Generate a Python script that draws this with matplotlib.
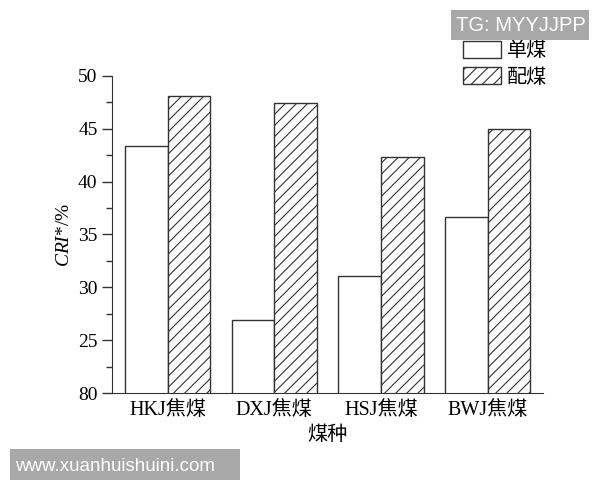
import numpy as np
import matplotlib.pyplot as plt
from matplotlib.patches import Rectangle
from matplotlib.ticker import MultipleLocator

plt.rcParams['font.family'] = ['Liberation Serif', 'Noto Sans CJK SC']
plt.rcParams['mathtext.fontset'] = 'custom'
plt.rcParams['mathtext.it'] = 'Liberation Serif:italic'
plt.rcParams['mathtext.rm'] = 'Liberation Serif'
plt.rcParams['hatch.linewidth'] = 0.8

# data
categories = ['HKJ焦煤', 'DXJ焦煤', 'HSJ焦煤', 'BWJ焦煤']
single_coal = [43.4, 26.9, 31.1, 36.7]   # 单煤
blend_coal = [48.1, 47.4, 42.3, 45.0]    # 配煤
ytick_vals = [20, 25, 30, 35, 40, 45, 50]
ytick_labels = ['80', '25', '30', '35', '40', '45', '50']

fig = plt.figure(figsize=(6, 4.8), dpi=100)
ax = fig.add_axes([0.187, 0.181, 0.718, 0.661])

x = np.arange(len(categories))
w = 0.40
ax.bar(x - w / 2, single_coal, w, color='white', edgecolor='#333333',
       linewidth=1.0, label='单煤')
ax.bar(x + w / 2, blend_coal, w, color='white', edgecolor='#333333',
       linewidth=1.0, hatch='///', label='配煤')

ax.set_ylim(20, 50)
ax.set_xlim(-0.52, 3.52)
ax.set_yticks(ytick_vals)
ax.set_yticklabels(ytick_labels)
ax.yaxis.set_minor_locator(MultipleLocator(2.5))
ax.set_xticks(x)
ax.set_xticklabels(categories)
ax.tick_params(axis='x', length=0, pad=6, labelsize=14.5)
ax.tick_params(axis='y', which='major', length=7, width=1, labelsize=14, color='#333333')
ax.tick_params(axis='y', which='minor', length=4, width=1, color='#333333')

for s in ['top', 'right']:
    ax.spines[s].set_visible(False)
for s in ['left', 'bottom']:
    ax.spines[s].set_color('#333333')

ax.set_ylabel(r'$CRI$*/%', fontsize=14, labelpad=4)
ax.set_xlabel('煤种', fontsize=14.5, labelpad=4)

ax.legend(loc='upper left', bbox_to_anchor=(0.796, 1.135), frameon=False,
          fontsize=14.5, handlelength=1.9, handleheight=0.9,
          labelspacing=0.3, handletextpad=0.25, borderaxespad=0)

# watermark boxes
fig.patches.append(Rectangle((0.7517, 0.9167), 0.23, 0.0625, transform=fig.transFigure,
                             fc='#a8a8a8', ec='none', zorder=5))
fig.text(0.868, 0.947, 'TG: MYYJJPP', family='Liberation Sans', fontsize=14.5,
         color='white', va='center', ha='center', zorder=6)
fig.patches.append(Rectangle((0.0167, 0.0), 0.383, 0.0646, transform=fig.transFigure,
                             fc='#a8a8a8', ec='none', zorder=5))
fig.text(0.025, 0.028, 'www.xuanhuishuini.com', family='Liberation Sans', fontsize=13.5,
         color='white', va='center', ha='left', zorder=6)

fig.savefig('out.png', dpi=100)
